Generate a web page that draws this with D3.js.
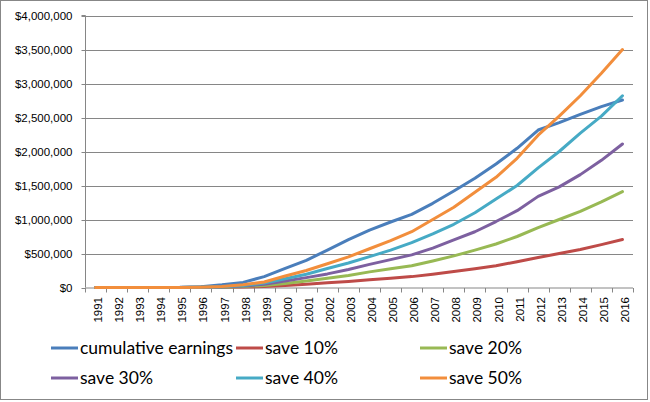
<!DOCTYPE html>
<html>
<head>
<meta charset="utf-8">
<script src="https://cdn.jsdelivr.net/npm/d3@7"></script>
<style>
  html, body { margin: 0; padding: 0; background: #fff; }
  svg { display: block; }
</style>
</head>
<body>
<svg id="chart" width="650" height="402"></svg>
<script>
const years = ["1991","1992","1993","1994","1995","1996","1997","1998","1999","2000","2001","2002","2003","2004","2005","2006","2007","2008","2009","2010","2011","2012","2013","2014","2015","2016"];
const seriesNames = ["cumulative earnings","save 10%","save 20%","save 30%","save 40%","save 50%"];
const cumulativeEarnings = [0,0,0,0,2000,12000,40000,75000,160000,280000,400000,550000,705000,845000,963000,1076000,1238000,1419000,1606000,1816000,2047000,2316000,2424000,2547000,2660000,2757000];
const save10 = [0,0,0,0,0,1000,2000,7000,15000,30000,48000,70000,90000,115000,135000,160000,195000,235000,275000,320000,380000,440000,500000,560000,630000,705000];
const save20 = [0,0,0,0,0,2000,5000,15000,30000,60000,95000,135000,175000,230000,275000,320000,390000,465000,550000,640000,750000,880000,1000000,1120000,1260000,1410000];
const save30 = [0,0,0,0,0,3000,8000,22000,48000,95000,145000,200000,265000,340000,410000,480000,580000,700000,820000,970000,1130000,1340000,1480000,1660000,1870000,2110000];
const save40 = [0,0,0,0,0,4000,12000,30000,65000,130000,195000,280000,360000,455000,550000,660000,790000,930000,1100000,1300000,1500000,1760000,2000000,2270000,2520000,2820000];
const save50 = [0,0,0,0,0,5000,15000,40000,80000,170000,250000,350000,450000,570000,690000,820000,1000000,1180000,1400000,1620000,1900000,2240000,2520000,2820000,3150000,3500000];
const yTicks = [0,500000,1000000,1500000,2000000,2500000,3000000,3500000,4000000];
const colors = ["#4A7EBB","#BE4B48","#98B954","#7D60A0","#46AAC5","#F28E3C"];

const seriesValues = [cumulativeEarnings, save10, save20, save30, save40, save50];

const svg = d3.select("#chart");
const gridColor = "#868686";

// outer border
svg.append("rect").attr("x",0.5).attr("y",0.5).attr("width",647).attr("height",399)
  .attr("fill","#fff").attr("stroke","#878787").attr("stroke-width",1);

const plotL = 85, plotR = 633, plotT = 15.5, plotB = 287.5;
const x = d3.scaleBand().domain(years).range([plotL, plotR]).paddingInner(0).paddingOuter(0);
const y = d3.scaleLinear().domain([0, 4000000]).range([plotB, plotT]);

// gridlines
svg.append("g").selectAll("line").data(yTicks.filter(d => d > 0)).join("line")
  .attr("x1", plotL).attr("x2", plotR)
  .attr("y1", d => Math.round(y(d)) + 0.5).attr("y2", d => Math.round(y(d)) + 0.5)
  .attr("stroke", gridColor).attr("stroke-width", 1);

// y axis
const yAxis = d3.axisLeft(y).tickValues(yTicks).tickSize(4).tickPadding(9)
  .tickFormat(d => "$" + d3.format(",")(d));
const gy = svg.append("g").attr("transform", `translate(${plotL + 0.5},0)`).call(yAxis);
gy.select(".domain").attr("stroke", gridColor).attr("d", `M-4,${plotT}H0V${plotB}`);
gy.selectAll(".tick line").attr("stroke", gridColor);
gy.selectAll(".tick").attr("transform", d => `translate(0,${Math.round(y(d)) + 0.5})`);
gy.selectAll("text").attr("font-family", "'Liberation Sans', Arial, sans-serif")
  .attr("font-size", "11.5px").attr("fill", "#000");

// x axis: line and boundary ticks
const gx = svg.append("g");
gx.append("line").attr("x1", plotL).attr("x2", plotR).attr("y1", plotB + 0.5).attr("y2", plotB + 0.5)
  .attr("stroke", gridColor);
const boundaries = years.map(d => x(d)).concat([plotR]);
gx.selectAll("line.tk").data(boundaries).join("line").attr("class","tk")
  .attr("x1", d => Math.round(d) + 0.5).attr("x2", d => Math.round(d) + 0.5)
  .attr("y1", plotB + 0.5).attr("y2", plotB + 5)
  .attr("stroke", gridColor);
gx.selectAll("text").data(years).join("text")
  .attr("transform", d => `translate(${x(d) + x.bandwidth()/2 + 6.5},${plotB + 9.5}) rotate(-90)`)
  .attr("text-anchor", "end")
  .attr("font-family", "'Liberation Sans', Arial, sans-serif")
  .attr("font-size", "11.5px").attr("fill", "#000")
  .text(d => d);

// lines
const line = d3.line()
  .x((d, i) => x(years[i]) + x.bandwidth()/2)
  .y(d => y(d));
svg.append("g").selectAll("path").data(seriesValues).join("path")
  .attr("d", d => line(d))
  .attr("fill", "none")
  .attr("stroke", (d, i) => colors[i])
  .attr("stroke-width", 3)
  .attr("stroke-linejoin", "round")
  .attr("stroke-linecap", "round");

// legend
const legendPos = [[51,348],[236,348],[420,348],[51,378],[236,378],[420,378]];
const lg = svg.append("g").selectAll("g").data(seriesNames).join("g")
  .attr("transform", (d, i) => `translate(${legendPos[i][0]},${legendPos[i][1]})`);
lg.append("line").attr("x1", 0).attr("x2", 27).attr("y1", 0).attr("y2", 0)
  .attr("stroke", (d, i) => colors[i]).attr("stroke-width", 3);
lg.append("text").attr("x", 29).attr("y", 6)
  .attr("font-family", "Lato, 'Open Sans', sans-serif")
  .attr("font-size", "17.5px").attr("fill", "#000")
  .text(d => d);
</script>
</body>
</html>
